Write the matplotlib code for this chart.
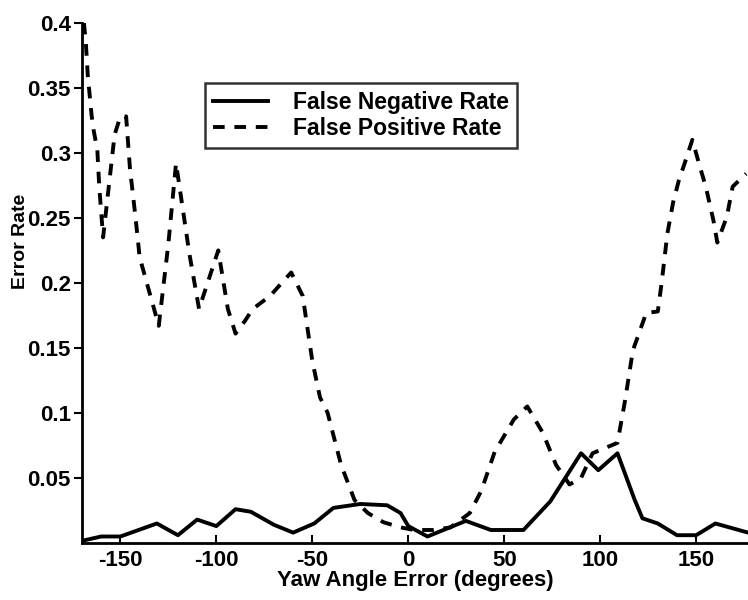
import matplotlib
matplotlib.use('Agg')
from matplotlib import pyplot as plt

plt.rcParams['font.family'] = ['Liberation Sans', 'DejaVu Sans']
plt.rcParams['font.weight'] = 'bold'
plt.rcParams['axes.unicode_minus'] = False

# false negative rate (solid)
fn_x = [-169, -160, -150, -131, -120, -110, -100, -90, -82, -70, -60, -49, -39, -25, -11, -4,
        0, 10, 20, 30, 43, 60, 74, 90, 99, 109, 118, 122, 130, 140, 150, 160, 177]
fn_y = [0.002, 0.005, 0.005, 0.015, 0.006, 0.018, 0.013, 0.026, 0.024, 0.014, 0.008, 0.015, 0.027, 0.030, 0.029, 0.023,
        0.013, 0.005, 0.011, 0.017, 0.010, 0.010, 0.032, 0.069, 0.056, 0.069, 0.033, 0.019, 0.015, 0.006, 0.006, 0.015, 0.008]

# false positive rate (dashed)
fp_x = [-169, -168, -167, -165, -164, -162, -161, -159, -153, -150, -147, -145, -143, -141, -140, -130,
        -125, -121, -118, -114, -109, -99, -94, -90, -85, -81, -72, -61, -55, -50, -46, -42, -35, -28, -21, -13, -4,
        3, 13, 22, 32, 38, 45, 55, 62, 70, 77, 84, 90, 96, 109, 113, 117, 124, 130, 132, 135, 138, 141, 144, 148,
        152, 155, 159, 161, 166, 169, 176]
fp_y = [0.400, 0.385, 0.360, 0.329, 0.318, 0.302, 0.274, 0.235, 0.314, 0.328, 0.328, 0.288, 0.262, 0.235, 0.220, 0.167,
        0.230, 0.292, 0.262, 0.222, 0.180, 0.225, 0.180, 0.161, 0.171, 0.180, 0.190, 0.208, 0.190, 0.140, 0.112, 0.100, 0.060, 0.033, 0.023, 0.016, 0.012,
        0.010, 0.010, 0.012, 0.023, 0.040, 0.070, 0.095, 0.105, 0.085, 0.060, 0.045, 0.050, 0.069, 0.077, 0.110, 0.148, 0.177, 0.178, 0.200, 0.238, 0.262, 0.279, 0.292, 0.310,
        0.289, 0.274, 0.248, 0.231, 0.251, 0.274, 0.284]

yticks = [0.05, 0.1, 0.15, 0.2, 0.25, 0.3, 0.35, 0.4]
ytick_labels = ['0.05', '0.1', '0.15', '0.2', '0.25', '0.3', '0.35', '0.4']
xticks = [-150, -100, -50, 0, 50, 100, 150]

fig = plt.figure(figsize=(7.48, 6), dpi=100)
ax = fig.add_axes([0.1096, 0.095, 0.8904, 0.867])

ax.plot(fn_x, fn_y, '-k', lw=2.8, label='False Negative Rate')
ax.plot(fp_x, fp_y, color='k', lw=2.8, linestyle=(0, (3, 2.5)), label='False Positive Rate')

ax.set_xlim(-170, 177)
ax.set_ylim(0, 0.4)
ax.set_xticks(xticks)
ax.set_yticks(yticks)
ax.set_yticklabels(ytick_labels)
ax.tick_params(axis='y', direction='out', length=6, width=1.5, labelsize=16, pad=2)
ax.tick_params(axis='x', direction='in', length=6, width=1.5, labelsize=16, pad=5)
for s in ['top', 'right']:
    ax.spines[s].set_visible(False)
for s in ['left', 'bottom']:
    ax.spines[s].set_linewidth(2)

ax.set_xlabel('Yaw Angle Error (degrees)', fontsize=16, fontweight='bold', labelpad=-1)
ax.set_ylabel('Error Rate', fontsize=14, fontweight='bold', va='center')
ax.yaxis.set_label_coords(-0.093, 0.58)

leg = ax.legend(loc='upper left', bbox_to_anchor=(0.185, 0.885), fontsize=16.5, frameon=True,
                fancybox=False, edgecolor='k', handlelength=2.4, labelspacing=0.15,
                borderpad=0.35, handletextpad=1.1, borderaxespad=0)
leg.get_frame().set_linewidth(1.8)

plt.savefig('out.png', dpi=100)
